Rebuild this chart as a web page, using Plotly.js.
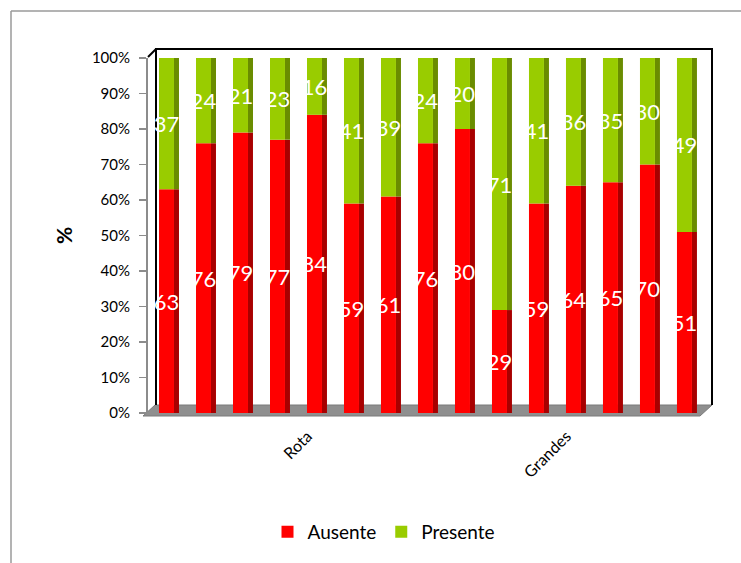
<!DOCTYPE html>
<html>
<head>
<meta charset="utf-8">
<script src="https://cdn.plot.ly/plotly-3.0.1.min.js"></script>
<style>html,body{margin:0;padding:0;background:#fff;}#chart{width:741px;height:563px;}</style>
</head>
<body>
<div id="chart"></div>
<script>
// ---- data ----
var tickLabels = ['', '', '', '', 'Rota', '', '', '', '', '', '', 'Grandes', '', '', ''];
var ausente  = [63, 76, 79, 77, 84, 59, 61, 76, 80, 29, 59, 64, 65, 70, 51];
var presente = [37, 24, 21, 23, 16, 41, 39, 24, 20, 71, 41, 36, 35, 30, 49];
var seriesNames = ['Ausente', 'Presente'];

// ---- derived ----
var xs = tickLabels.map(function (_, i) { return i + 1; });
var tickvals = [], ticktext = [];
tickLabels.forEach(function (t, i) { if (t) { tickvals.push(i + 1); ticktext.push(t); } });
var zeros = ausente.map(function () { return 0; });

var RED = '#ff0000', RED_SIDE = '#a80000';
var GREEN = '#99cc00', GREEN_SIDE = '#6a8c00';
var FONT = 'Lato, Carlito, Calibri, sans-serif';

// plot area pixels: x 148..700, y 58..413
var L = 148, R = 700, T = 58, B = 413;
function px(x) { return (x - L) / (R - L); }
function py(y) { return (B - y) / (B - T); }

var frontW = 0.405, sideW = 0.135;

var traces = [
  { type: 'bar', x: xs, y: ausente, base: zeros, width: sideW, offset: frontW / 2,
    marker: { color: RED_SIDE }, showlegend: false, hoverinfo: 'skip' },
  { type: 'bar', x: xs, y: presente, base: ausente, width: sideW, offset: frontW / 2,
    marker: { color: GREEN_SIDE }, showlegend: false, hoverinfo: 'skip' },
  { type: 'bar', name: seriesNames[0], x: xs, y: ausente, base: zeros, width: frontW, offset: -frontW / 2,
    marker: { color: RED }, text: ausente.map(String), textposition: 'inside', insidetextanchor: 'middle',
    textangle: 0, constraintext: 'none', textfont: { color: '#ffffff', size: 22, family: FONT } },
  { type: 'bar', name: seriesNames[1], x: xs, y: presente, base: ausente, width: frontW, offset: -frontW / 2,
    marker: { color: GREEN }, text: presente.map(String), textposition: 'inside', insidetextanchor: 'middle',
    textangle: 0, constraintext: 'none', textfont: { color: '#ffffff', size: 22, family: FONT } }
];

var shapes = [
  // outer chart frame
  { type: 'line', xref: 'paper', yref: 'paper', x0: px(11), x1: px(11), y0: py(563), y1: py(11),
    line: { color: '#9a9a9a', width: 1.5 } },
  { type: 'line', xref: 'paper', yref: 'paper', x0: px(11), x1: px(741), y0: py(11), y1: py(11),
    line: { color: '#9a9a9a', width: 1.5 } },
  // floor
  { type: 'path', xref: 'paper', yref: 'paper', layer: 'below',
    path: 'M' + px(143) + ',' + py(416) + ' L' + px(155) + ',' + py(405) + ' L' + px(712) + ',' + py(405) +
          ' L' + px(700) + ',' + py(416) + ' Z',
    fillcolor: '#8f8f8f', line: { color: '#7a7a7a', width: 1 } },
  // back wall
  { type: 'path', xref: 'paper', yref: 'paper', layer: 'below',
    path: 'M' + px(156) + ',' + py(405) + ' L' + px(156) + ',' + py(49) + ' L' + px(712) + ',' + py(49) +
          ' L' + px(712) + ',' + py(405),
    line: { color: '#000000', width: 2 } },
  { type: 'line', xref: 'paper', yref: 'paper', layer: 'below',
    x0: px(148), y0: py(57), x1: px(156), y1: py(49), line: { color: '#000000', width: 2 } }
];

var layout = {
  width: 741, height: 563,
  margin: { l: L, r: 741 - R, t: T, b: 563 - B, pad: 0 },
  paper_bgcolor: '#ffffff', plot_bgcolor: 'rgba(0,0,0,0)',
  barmode: 'overlay', showlegend: true,
  font: { family: FONT, color: '#000000' },
  xaxis: {
    range: [0.5, 15.42], tickvals: tickvals, ticktext: ticktext, tickangle: -45,
    showgrid: false, zeroline: false, showline: false, ticks: '',
    tickfont: { size: 16, family: FONT, color: '#000' }, ticklabelstandoff: 10, ticklabelshift: -7,
    fixedrange: true
  },
  yaxis: {
    range: [0, 100], dtick: 10, ticksuffix: '%', showgrid: false, zeroline: false,
    showline: true, linecolor: '#8c8c8c', linewidth: 2, ticks: 'outside', ticklen: 7,
    tickcolor: '#8c8c8c', tickwidth: 1.5, tickfont: { size: 15, family: FONT, color: '#000' },
    ticklabelstandoff: 6,
    title: { text: '<b>%</b>', font: { size: 21, family: FONT, color: '#000' }, standoff: 14 }
  },
  legend: {
    orientation: 'h', x: px(384), xanchor: 'center', y: py(532), yanchor: 'middle',
    font: { size: 19, family: FONT, color: '#000' }, itemwidth: 30, traceorder: 'normal'
  },
  shapes: shapes
};

Plotly.newPlot('chart', traces, layout, { displayModeBar: false, staticPlot: true });
</script>
</body>
</html>
